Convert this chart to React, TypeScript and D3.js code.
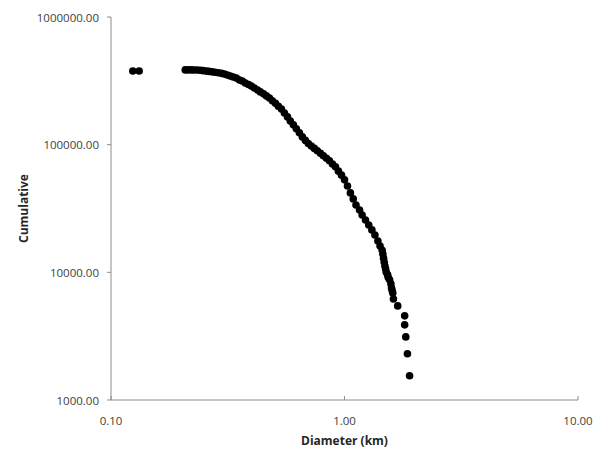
import * as d3 from "d3";

const diameter = [
  0.124, 0.132,
  0.208, 0.214, 0.221, 0.227, 0.234, 0.241, 0.248, 0.256, 0.263, 0.271,
  0.279, 0.288, 0.297, 0.306, 0.315, 0.324, 0.334, 0.344, 0.355, 0.365,
  0.376, 0.388, 0.399, 0.411, 0.424, 0.436, 0.450, 0.463, 0.477, 0.491,
  0.506, 0.521, 0.537, 0.553, 0.570, 0.586, 0.604, 0.622, 0.641, 0.660,
  0.680, 0.700, 0.721, 0.743, 0.765, 0.789, 0.812, 0.837, 0.862, 0.888,
  0.915, 0.942, 0.971, 1.00, 1.03, 1.06, 1.09, 1.12, 1.16, 1.19,
  1.23, 1.27, 1.31, 1.35, 1.39, 1.42, 1.45, 1.46, 1.47, 1.48, 1.49,
  1.50, 1.51, 1.53, 1.54, 1.56, 1.58, 1.59, 1.60, 1.61, 1.62, 1.69, 1.81, 1.81,
  1.83, 1.86, 1.90
];

const cumulative = [
  378000, 378000,
  385000, 385000, 385000, 384000, 384000, 383000, 380000, 377000, 375000, 372000,
  369000, 366000, 362000, 357000, 351000, 345000, 339000, 333000, 321000, 315000,
  304000, 296000, 288000, 278000, 268000, 259000, 250000, 241000, 232000, 221000,
  211000, 200000, 190000, 177000, 165000, 153000, 143000, 133000, 124000, 115000,
  108000, 102000, 97500, 93500, 89500, 85500, 81800, 78200, 74800, 70600,
  67000, 62000, 57700, 53000, 47500, 41900, 37600, 33700, 30800, 28100,
  25700, 23500, 21500, 19600, 17600, 16100, 14900, 13900, 12900, 12000, 11200,
  10600, 10000, 9550, 9100, 8730, 8140, 7550, 7200, 6900, 6190, 5460, 4560, 3880,
  3120, 2300, 1550
];

const xTicks = [0.1, 1, 10];
const yTicks = [1000, 10000, 100000, 1000000];

const width = 599;
const height = 450;
const left = 111;
const right = 578;
const top = 17;
const bottom = 400;

export default function App() {
  const x = d3.scaleLog().domain([0.1, 10]).range([left, right]);
  const y = d3.scaleLog().domain([1000, 1000000]).range([bottom, top]);
  const fmt = d3.format(".2f");
  const axisColor = "#8c8c8c";
  const tickText = "#404040";
  const font = "'Open Sans', 'Liberation Sans', sans-serif";

  const points = diameter.map((d, i) => ({ d, n: cumulative[i] }));

  return (
    <div style={{ position: "absolute", left: 0, top: 0 }}>
      <svg width={width} height={height} style={{ display: "block", background: "#fff" }}>
        {/* axes */}
        <line x1={left} x2={left} y1={top} y2={bottom} stroke={axisColor} strokeWidth={1} />
        <line x1={left} x2={right} y1={bottom} y2={bottom} stroke={axisColor} strokeWidth={1} />
        {yTicks.map(t => (
          <g key={t}>
            <line x1={left - 4} x2={left} y1={y(t)} y2={y(t)} stroke={axisColor} />
            <text
              x={left - 12}
              y={y(t)}
              textAnchor="end"
              dominantBaseline="central"
              fontFamily={font}
              fontSize={11.5}
              fill={tickText}
            >
              {fmt(t)}
            </text>
          </g>
        ))}
        {xTicks.map(t => (
          <g key={t}>
            <line x1={x(t)} x2={x(t)} y1={bottom} y2={bottom - 4} stroke={axisColor} />
            <text
              x={x(t)}
              y={bottom + 20}
              textAnchor="middle"
              dominantBaseline="central"
              fontFamily={font}
              fontSize={11.5}
              fill={tickText}
            >
              {fmt(t)}
            </text>
          </g>
        ))}

        {/* points */}
        {points.map((p, i) => (
          <circle key={i} cx={x(p.d)} cy={y(p.n)} r={3.8} fill="#000" />
        ))}

        {/* titles */}
        <text
          x={(left + right) / 2}
          y={440}
          textAnchor="middle"
          dominantBaseline="central"
          fontFamily={font}
          fontSize={12}
          fontWeight="bold"
          fill="#262626"
        >
          Diameter (km)
        </text>
        <text
          transform={`translate(23,${(top + bottom) / 2}) rotate(-90)`}
          textAnchor="middle"
          dominantBaseline="central"
          fontFamily={font}
          fontSize={12}
          fontWeight="bold"
          fill="#262626"
        >
          Cumulative
        </text>
      </svg>
    </div>
  );
}
